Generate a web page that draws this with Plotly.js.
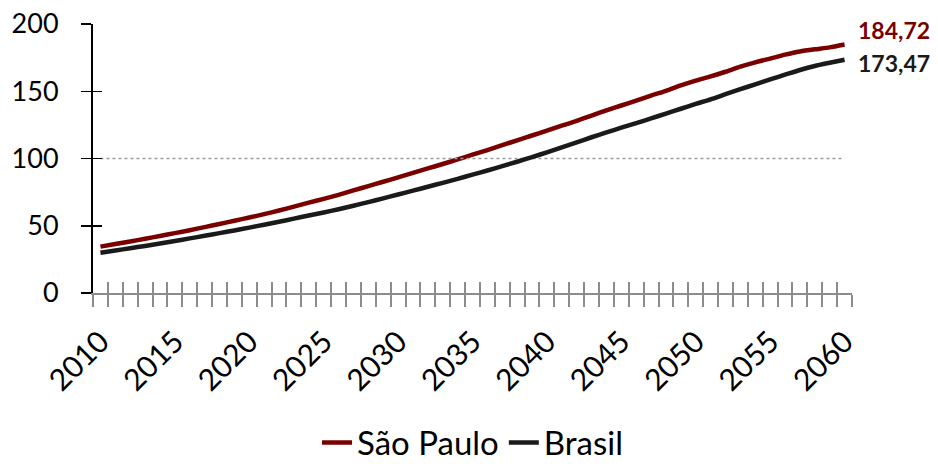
<!DOCTYPE html>
<html>
<head>
<meta charset="utf-8">
<script src="https://cdn.plot.ly/plotly-3.0.1.min.js"></script>
<style>html,body{margin:0;padding:0;background:#fff;}#chart{width:938px;height:464px;}</style>
</head>
<body>
<div id="chart"></div>
<script>
const years = [];
for (let y = 2010; y <= 2060; y++) years.push(y);

const saoPaulo = [
  34.5, 36.4, 38.3, 40.3, 42.4, 44.5, 46.7, 49.0, 51.3, 53.7,
  56.1, 58.6, 61.3, 64.2, 67.2, 70.0, 73.0, 76.3, 79.5, 82.7,
  86.0, 89.3, 92.6, 95.9, 99.3, 102.8, 106.3, 109.9, 113.5, 117.1,
  120.8, 124.4, 128.0, 131.9, 135.8, 139.4, 143.0, 146.8, 150.3, 154.3,
  157.9, 161.0, 164.5, 168.3, 171.5, 174.3, 177.2, 179.6, 181.2, 182.6,
  184.72
];
const brasil = [
  30.0, 31.6, 33.3, 35.0, 36.8, 38.7, 40.6, 42.5, 44.5, 46.5,
  48.6, 50.8, 53.0, 55.3, 57.6, 59.9, 62.3, 64.9, 67.6, 70.4,
  73.2, 76.1, 79.0, 81.9, 84.9, 88.0, 91.1, 94.3, 97.6, 101.0,
  104.6, 108.3, 112.0, 115.8, 119.4, 122.9, 126.3, 129.8, 133.4, 137.0,
  140.6, 144.0, 147.8, 151.5, 155.2, 158.8, 162.3, 165.8, 168.8, 171.2,
  173.47
];
const reference = years.map(() => 100);
const labelYears = [2010, 2015, 2020, 2025, 2030, 2035, 2040, 2045, 2050, 2055, 2060];
const yTicks = [0, 50, 100, 150, 200];
const seriesNames = ['São Paulo', 'Brasil'];
const endLabels = ['184,72', '173,47'];

const cSP = '#7a0000';
const cBR = '#1a1a1a';
const font = 'Lato, "Open Sans", sans-serif';

const traces = [
  {x: years, y: reference, xaxis: 'x2', yaxis: 'y2', type: 'scatter', mode: 'lines', showlegend: false, hoverinfo: 'skip',
   line: {color: '#9a9a9a', width: 1.5, dash: 'dot'}},
  {x: years, y: saoPaulo, name: seriesNames[0], type: 'scatter', mode: 'lines',
   line: {color: cSP, width: 4.5, shape: 'spline', smoothing: 0.6}},
  {x: years, y: brasil, name: seriesNames[1], xaxis: 'x3', type: 'scatter', mode: 'lines',
   line: {color: cBR, width: 4.5, shape: 'spline', smoothing: 0.6}}
];

const last = years.length - 1;
const xr = [years[0] - 0.5, years[last] + 0.5];

const layout = {
  width: 938, height: 464,
  margin: {l: 93, r: 86, t: 24, b: 171},
  paper_bgcolor: '#fff', plot_bgcolor: 'rgba(0,0,0,0)',
  font: {family: font, color: '#000'},
  showlegend: true,
  legend: {orientation: 'h', x: 0.5, xanchor: 'center', yref: 'container', y: 0.046, yanchor: 'middle',
           font: {family: font, size: 33, color: '#000'}, itemwidth: 30, tracegroupgap: 0},
  xaxis: {type: 'linear', range: xr, tickvals: labelYears, ticks: '', showgrid: false, zeroline: false,
          showline: false, tickangle: -45, tickfont: {family: font, size: 30, color: '#000'},
          ticklabelstandoff: 24},
  xaxis2: {type: 'linear', overlaying: 'x', anchor: 'y', range: xr, tick0: xr[0], dtick: 1,
           ticks: 'outside', ticklen: 12, tickwidth: 2, tickcolor: '#8c8c8c', showticklabels: false,
           showgrid: false, zeroline: false, showline: true, linecolor: '#8c8c8c', linewidth: 2},
  xaxis3: {type: 'linear', overlaying: 'x', anchor: 'y', range: xr, tick0: xr[0], dtick: 1,
           ticks: 'inside', ticklen: 11, tickwidth: 2, tickcolor: '#8c8c8c', showticklabels: false,
           showgrid: false, zeroline: false, showline: false},
  yaxis: {range: [0, 200], tickvals: yTicks, ticks: 'outside', ticklen: 10, tickwidth: 1.5, tickcolor: '#000',
          showgrid: false, zeroline: false, showline: true, linecolor: '#000', linewidth: 2,
          tickfont: {family: font, size: 27, color: '#000'}, ticklabelstandoff: 17},
  yaxis2: {range: [0, 200], overlaying: 'y', anchor: 'x', side: 'left', tickvals: yTicks, ticks: 'inside',
           ticklen: 9, tickwidth: 1.5, tickcolor: '#000', showticklabels: false,
           showgrid: false, zeroline: false, showline: false},
  annotations: [
    {x: years[last], y: saoPaulo[last], xref: 'x', yref: 'y', text: '<b>' + endLabels[0] + '</b>',
     showarrow: false, xanchor: 'left', yanchor: 'middle', xshift: 11, yshift: 15,
     font: {family: font, size: 23, color: cSP}},
    {x: years[last], y: brasil[last], xref: 'x', yref: 'y', text: '<b>' + endLabels[1] + '</b>',
     showarrow: false, xanchor: 'left', yanchor: 'middle', xshift: 11, yshift: -3,
     font: {family: font, size: 23, color: cBR}}
  ]
};

Plotly.newPlot('chart', traces, layout, {displayModeBar: false, staticPlot: true});
</script>
</body>
</html>
